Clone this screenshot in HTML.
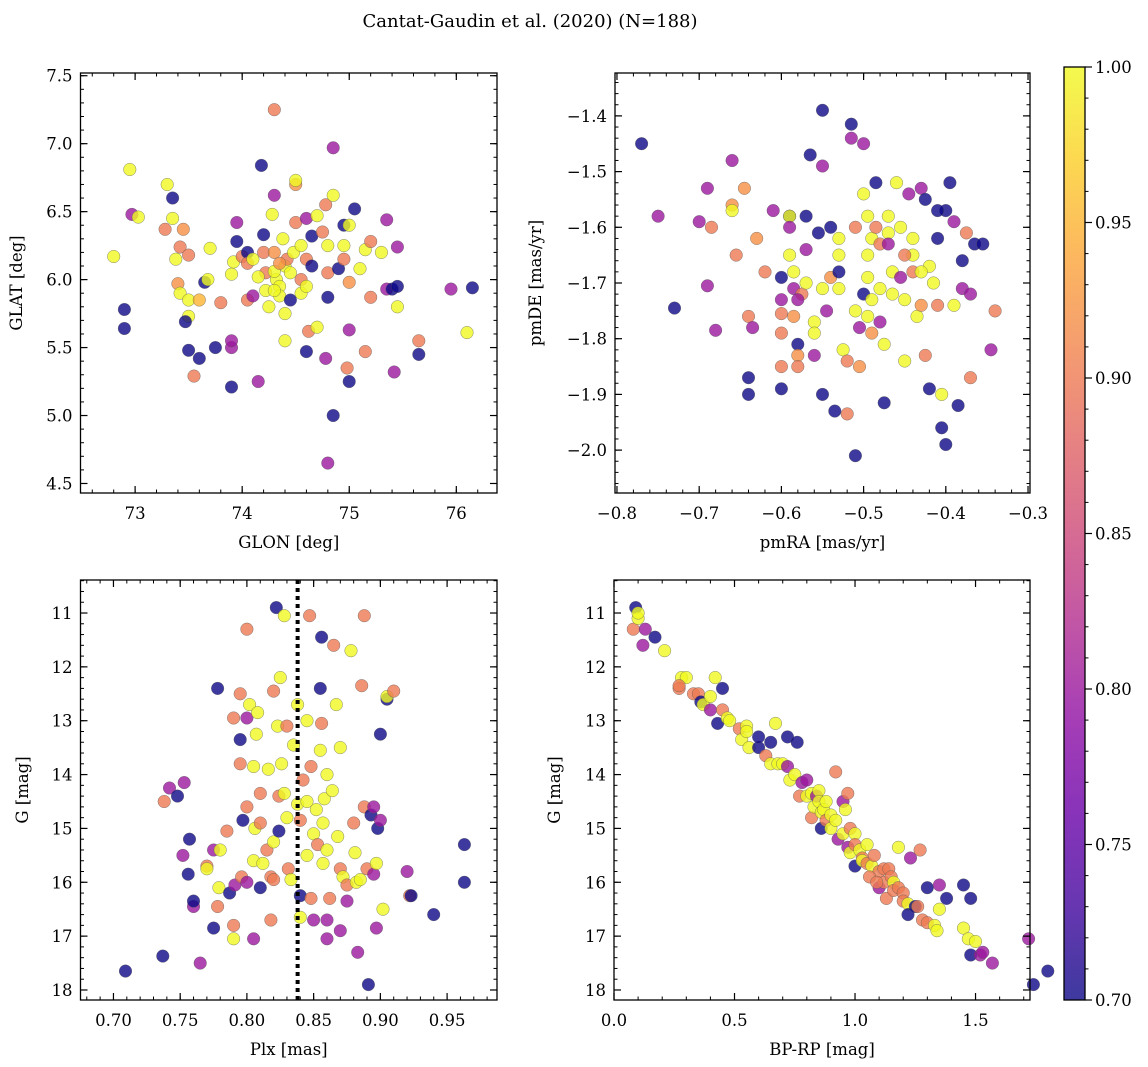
<!DOCTYPE html>
<html><head><meta charset="utf-8"><style>
html,body{margin:0;padding:0;background:#fff;}
svg{display:block;font-family:"DejaVu Serif","Liberation Serif",serif;}
</style></head><body>
<svg id="fig" width="1148" height="1067" viewBox="0 0 1148 1067" xmlns="http://www.w3.org/2000/svg">
<rect width="1148" height="1067" fill="#fff"/>
<text x="530" y="27" font-size="18" text-anchor="middle">Cantat-Gaudin et al. (2020) (N=188)</text>
</svg>
<script>
// ---- Panel 1 data: GLON / GLAT / probability
const p1x=[72.8,72.9,72.9,72.97,72.95,73.03,73.3,73.35,73.35,73.28,73.45,73.42,73.5,73.38,73.4,73.42,73.5,73.5,73.47,73.5,73.6,73.55,73.6,73.65,73.7,73.68,73.8,73.75,73.9,73.9,73.9,73.9,73.95,73.95,73.92,74.0,74.05,74.05,74.05,74.1,74.15,74.18,74.2,74.2,74.22,74.22,74.25,74.28,74.3,74.3,74.3,74.32,74.35,74.35,74.38,74.4,74.4,74.4,74.42,74.45,74.45,74.48,74.5,74.5,74.5,74.55,74.55,74.55,74.6,74.6,74.6,74.62,74.65,74.65,74.7,74.7,74.75,74.78,74.78,74.8,74.8,74.8,74.8,74.85,74.85,74.85,74.9,74.95,74.95,74.95,75.0,75.0,75.0,75.0,74.98,75.05,75.1,75.15,75.2,75.2,75.3,75.15,75.35,75.35,75.4,75.45,75.45,75.45,75.42,75.65,75.65,75.95,76.1,76.15,74.1,74.3,74.35,74.15,74.6,74.3];
const p1y=[6.17,5.78,5.64,6.48,6.81,6.46,6.70,6.60,6.45,6.37,6.37,6.24,6.18,6.15,5.97,5.90,5.85,5.73,5.69,5.48,5.42,5.29,5.85,5.98,6.23,6.00,5.83,5.50,5.50,5.55,5.21,6.04,6.42,6.28,6.13,6.17,6.2,6.12,5.85,5.88,5.25,6.84,6.33,6.2,6.05,5.92,5.8,6.48,7.25,6.62,6.2,6.0,5.95,5.88,6.3,6.1,5.75,5.55,6.15,6.05,5.85,6.2,6.7,6.73,6.42,6.25,6.0,5.9,6.45,6.15,5.47,5.62,6.1,6.32,6.47,5.65,6.35,6.55,5.42,6.25,6.05,5.87,4.65,6.62,6.97,5.0,6.08,6.4,6.25,6.15,6.4,5.98,5.63,5.25,5.35,6.52,6.08,6.22,6.28,5.87,6.2,5.47,6.44,5.93,5.93,6.24,5.8,5.95,5.32,5.55,5.45,5.93,5.61,5.94,6.15,6.06,6.12,6.02,5.95,5.92];
const p1c=[1,.7,.7,.8,1,1,1,.7,1,.9,.92,.9,.9,1,.92,1,1,1,.7,.7,.7,.9,.95,.7,1,1,.9,.7,.8,.8,.7,1,.8,.7,1,.9,.7,.9,.9,.8,.8,.7,.7,.9,.9,1,1,1,.9,.8,.92,1,1,1,1,1,1,1,.9,1,.7,1,.92,1,.9,1,.9,1,.8,.9,.7,.9,.7,.7,1,1,.9,.9,.8,1,.9,.7,.8,1,.8,.7,.7,.7,1,.9,1,.92,.8,.7,.9,.7,1,1,.9,.9,1,.9,.8,.8,.7,.8,1,.7,.8,.9,.7,.8,1,.7,1,1,.92,1,1,1];
// ---- Panel 2 data: pmRA / pmDE / probability
const p2x=[-0.77,-0.75,-0.73,-0.70,-0.69,-0.69,-0.685,-0.68,-0.66,-0.66,-0.66,-0.655,-0.645,-0.64,-0.635,-0.63,-0.62,-0.61,-0.6,-0.6,-0.6,-0.6,-0.64,-0.64,-0.6,-0.59,-0.59,-0.59,-0.59,-0.585,-0.585,-0.585,-0.58,-0.58,-0.58,-0.575,-0.57,-0.57,-0.57,-0.565,-0.56,-0.56,-0.56,-0.555,-0.55,-0.55,-0.55,-0.545,-0.55,-0.54,-0.54,-0.535,-0.53,-0.53,-0.53,-0.53,-0.525,-0.52,-0.52,-0.51,-0.515,-0.515,-0.51,-0.51,-0.505,-0.505,-0.5,-0.5,-0.5,-0.495,-0.495,-0.495,-0.495,-0.49,-0.49,-0.49,-0.485,-0.485,-0.48,-0.48,-0.48,-0.475,-0.475,-0.47,-0.47,-0.47,-0.465,-0.465,-0.46,-0.455,-0.455,-0.45,-0.45,-0.445,-0.44,-0.44,-0.44,-0.435,-0.43,-0.43,-0.425,-0.425,-0.42,-0.42,-0.415,-0.41,-0.41,-0.405,-0.405,-0.4,-0.4,-0.395,-0.39,-0.39,-0.38,-0.38,-0.375,-0.37,-0.37,-0.365,-0.355,-0.345,-0.34,-0.385,-0.41,-0.43,-0.45,-0.6,-0.58];
const p2y=[-1.45,-1.58,-1.745,-1.59,-1.53,-1.705,-1.6,-1.785,-1.48,-1.56,-1.57,-1.65,-1.53,-1.76,-1.78,-1.62,-1.68,-1.57,-1.73,-1.755,-1.79,-1.85,-1.9,-1.87,-1.89,-1.58,-1.58,-1.6,-1.65,-1.68,-1.71,-1.76,-1.81,-1.83,-1.85,-1.72,-1.64,-1.7,-1.58,-1.47,-1.77,-1.79,-1.83,-1.61,-1.39,-1.49,-1.71,-1.75,-1.9,-1.6,-1.69,-1.93,-1.62,-1.65,-1.68,-1.71,-1.82,-1.84,-1.935,-2.01,-1.415,-1.44,-1.6,-1.75,-1.78,-1.85,-1.45,-1.54,-1.72,-1.58,-1.65,-1.69,-1.76,-1.62,-1.73,-1.79,-1.52,-1.6,-1.63,-1.71,-1.77,-1.81,-1.915,-1.58,-1.61,-1.63,-1.68,-1.72,-1.52,-1.6,-1.69,-1.73,-1.84,-1.54,-1.62,-1.65,-1.68,-1.76,-1.74,-1.53,-1.55,-1.83,-1.89,-1.67,-1.7,-1.62,-1.74,-1.9,-1.96,-1.99,-1.57,-1.52,-1.59,-1.74,-1.66,-1.71,-1.61,-1.87,-1.72,-1.63,-1.63,-1.82,-1.75,-1.92,-1.57,-1.68,-1.65,-1.69,-1.73];
const p2c=[.7,.8,.7,.8,.8,.8,.9,.8,.8,.92,1,.9,.92,.9,.8,.92,.9,.8,.8,.9,.9,.9,.7,.7,.7,.7,1,.8,1,1,.8,.92,.7,.92,.9,.9,.8,1,.7,.7,1,1,.8,.7,.7,.8,1,.8,.7,.7,.92,.7,1,1,.7,1,1,.9,.9,.7,.7,.8,.9,1,.8,.92,.8,1,.7,1,1,1,1,1,1,.92,.7,.9,.9,1,.8,1,.7,1,1,.8,1,1,1,1,.8,1,1,.8,1,1,.9,1,.92,.8,.7,.9,.7,1,1,.7,.9,1,.7,.7,.7,.7,.8,1,.7,.8,.9,.9,.8,.7,.7,.8,.9,.7,.7,1,.9,.7,.8];
// ---- Panel 3 data: Plx / G / probability
const p3x=[0.709,0.737,0.738,0.742,0.748,0.752,0.753,0.757,0.756,0.76,0.76,0.765,0.77,0.77,0.775,0.775,0.778,0.779,0.778,0.78,0.785,0.787,0.79,0.79,0.79,0.791,0.795,0.795,0.795,0.797,0.796,0.8,0.8,0.8,0.8,0.802,0.805,0.805,0.805,0.806,0.807,0.808,0.81,0.81,0.812,0.815,0.816,0.818,0.818,0.82,0.82,0.82,0.822,0.823,0.824,0.824,0.825,0.826,0.828,0.828,0.83,0.831,0.833,0.835,0.838,0.838,0.84,0.84,0.84,0.842,0.845,0.845,0.845,0.847,0.848,0.848,0.85,0.85,0.852,0.853,0.855,0.855,0.856,0.856,0.857,0.857,0.858,0.86,0.86,0.86,0.86,0.862,0.864,0.865,0.867,0.868,0.87,0.87,0.87,0.872,0.875,0.875,0.878,0.88,0.881,0.882,0.883,0.885,0.886,0.888,0.888,0.89,0.891,0.893,0.895,0.895,0.897,0.897,0.898,0.9,0.9,0.902,0.905,0.905,0.91,0.92,0.922,0.923,0.94,0.963,0.963,0.83,0.81];
const p3y=[17.65,17.37,14.5,14.25,14.4,15.5,14.15,15.2,15.85,16.45,16.35,17.5,15.7,15.75,15.4,16.85,16.45,16.1,12.4,15.4,15.05,16.2,12.95,16.8,17.05,16.05,12.5,13.35,13.8,14.85,15.9,11.3,12.95,14.6,16.0,12.7,13.85,15.6,17.05,15.0,13.25,12.85,14.35,16.1,15.65,15.4,13.9,16.7,15.9,15.95,12.45,15.25,10.9,13.1,14.4,15.05,12.2,13.8,14.35,11.05,13.1,15.75,15.95,13.45,14.55,12.7,14.85,16.25,16.65,14.1,13.0,14.5,15.5,11.05,13.85,16.3,15.1,16.7,14.65,15.3,12.4,13.55,13.05,11.45,14.9,15.65,14.45,15.4,14.0,16.7,17.05,16.3,14.3,11.6,12.7,15.15,15.75,13.5,16.9,15.9,16.05,16.35,11.7,14.9,15.45,16.0,17.3,15.95,12.35,14.6,11.05,15.75,17.9,14.75,14.6,15.85,15.65,16.85,15.0,13.25,14.85,16.5,12.6,12.55,12.45,15.8,16.25,16.25,16.6,15.3,16.0,14.8,14.9];
const p3c=[.7,.7,.9,.8,.7,.8,.8,.7,.7,.8,.7,.8,.9,1,.8,.7,.9,1,.7,1,.9,.7,.9,.9,1,.8,.9,.7,.9,.7,.9,.9,.8,.9,.8,1,1,1,.8,1,1,1,.9,.7,1,.9,1,.9,.9,.9,.9,1,.7,1,.9,.7,1,1,1,1,.9,.9,1,1,1,1,.9,.7,1,.9,1,1,1,.9,.9,.9,1,.8,1,.9,.7,1,.9,.7,1,1,1,1,1,.8,.8,.9,1,.9,1,1,.9,1,.8,1,.9,.8,1,.9,1,1,.8,1,.9,.9,.9,.9,.7,.7,.8,.8,1,.8,.7,.7,.8,1,.7,1,.9,.8,.9,.7,.7,.7,.7,1,.9];
// ---- Panel 4 data: BP-RP / G / probability
const p4x=[0.08,0.09,0.1,0.1,0.12,0.13,0.17,0.21,0.28,0.3,0.27,0.27,0.33,0.35,0.36,0.37,0.4,0.4,0.42,0.43,0.45,0.45,0.47,0.48,0.52,0.53,0.55,0.55,0.56,0.6,0.63,0.65,0.67,0.68,0.7,0.72,0.72,0.73,0.75,0.76,0.77,0.78,0.8,0.8,0.82,0.82,0.83,0.84,0.85,0.85,0.86,0.86,0.87,0.88,0.88,0.9,0.9,0.92,0.92,0.93,0.95,0.95,0.96,0.97,0.97,0.98,0.98,1.0,1.0,1.0,1.02,1.03,1.03,1.05,1.05,1.07,1.08,1.1,1.1,1.12,1.12,1.13,1.14,1.15,1.16,1.16,1.18,1.18,1.2,1.2,1.22,1.22,1.23,1.25,1.26,1.27,1.28,1.3,1.3,1.33,1.34,1.35,1.35,1.38,1.45,1.48,1.45,1.47,1.48,1.5,1.52,1.53,1.57,1.72,1.74,1.8,0.6,0.65,1.06,1.09];
const p4y=[11.3,10.9,11.1,11.0,11.6,11.3,11.45,11.7,12.2,12.2,12.4,12.35,12.5,12.5,12.65,12.7,12.55,12.8,12.2,13.05,12.4,12.8,12.95,13.0,13.15,13.35,13.1,13.2,13.5,13.5,13.65,13.8,13.05,13.8,13.8,13.3,13.85,14.1,14.0,13.4,14.4,14.15,14.1,14.4,14.35,14.8,14.6,14.4,14.3,14.5,14.7,15.0,14.65,14.5,14.85,14.75,15.0,14.85,13.95,15.2,14.5,15.1,14.65,14.35,15.35,15.0,15.45,15.1,15.3,15.7,15.4,15.55,15.6,15.3,15.65,15.7,15.5,15.8,16.1,15.75,16.0,16.3,15.75,15.9,16.0,16.15,16.1,15.35,16.2,16.35,16.4,16.6,15.55,16.45,16.45,15.4,16.7,16.75,16.1,16.8,16.9,16.5,16.05,16.3,16.05,16.3,16.85,17.05,17.35,17.1,17.35,17.3,17.5,17.05,17.9,17.65,13.3,13.4,15.9,16.0];
const p4c=[.9,.7,1,1,.8,.8,.7,1,1,1,.9,.9,.9,.9,.7,1,1,.8,1,.7,.7,.9,1,1,.9,1,1,1,1,.7,.9,1,1,1,1,.7,.8,1,1,.7,.9,.8,.8,1,1,.9,1,.8,1,1,1,.7,1,1,.9,1,1,1,.9,.8,.8,1,1,.9,.8,.9,1,1,.9,.7,1,.9,1,1,.9,1,.9,.9,.8,.9,.9,.9,.9,.9,1,.9,.9,1,.9,.9,1,.7,.8,.7,.9,.9,.9,.9,.7,1,1,1,.8,.7,.7,.7,1,1,.7,1,.8,.8,.8,.8,.7,.7,.7,.7,.9,.9];
// ---- tick values
const p1xTicks=[73,74,75,76], p1yTicks=[4.5,5.0,5.5,6.0,6.5,7.0,7.5];
const p2xTicks=[-0.8,-0.7,-0.6,-0.5,-0.4,-0.3], p2yTicks=[-1.4,-1.5,-1.6,-1.7,-1.8,-1.9,-2.0];
const p3xTicks=[0.70,0.75,0.80,0.85,0.90,0.95], gTicks=[11,12,13,14,15,16,17,18];
const p4xTicks=[0.0,0.5,1.0,1.5];
const cbTicks=[0.70,0.75,0.80,0.85,0.90,0.95,1.00];
const plxLine=0.838;

const NS='http://www.w3.org/2000/svg';
const svg=document.getElementById('fig');
const FS=16.5;
function el(tag,attrs,parent){const e=document.createElementNS(NS,tag);for(const k in attrs)e.setAttribute(k,attrs[k]);(parent||svg).appendChild(e);return e;}
const stops=[[0,[13,8,135]],[0.125,[65,4,157]],[0.25,[106,0,168]],[0.375,[143,13,164]],[0.5,[177,42,144]],[0.625,[204,71,120]],[0.75,[225,100,98]],[0.875,[242,132,75]],[1.0,[252,166,54]],[1.125,[252,206,37]],[1.25,[240,249,33]]];
function plasma(t){t=Math.max(0,Math.min(1,t));t*=1.25;for(let i=1;i<stops.length;i++){if(t<=stops[i][0]){const a=stops[i-1],b=stops[i];const f=(t-a[0])/(b[0]-a[0]);return 'rgb('+a[1].map((v,j)=>Math.round(v+(b[1][j]-v)*f)).join(',')+')';}}return 'rgb(240,249,33)';}
function pcol(v){return plasma((v-0.7)/0.3);}
function fmt(v,d){return (v<0?'\u2212':'')+Math.abs(v).toFixed(d);}

function panel(o){
  const g=el('g',{});
  
  
  const X=v=>o.L+(v-o.x0)/(o.x1-o.x0)*(o.R-o.L);
  const Y=v=>o.T+(v-o.y0)/(o.y1-o.y0)*(o.B-o.T);
  for(let i=0;i<o.xs.length;i++){
    const c=el('circle',{cx:X(o.xs[i]).toFixed(1),cy:Y(o.ys[i]).toFixed(1),r:6.3,fill:pcol(o.cs[i]),'fill-opacity':0.8,stroke:'#555','stroke-width':0.5,'stroke-opacity':0.7},g);
    
    
  }
  if(o.vline!==undefined){
    const l=el('line',{x1:X(o.vline),x2:X(o.vline),y1:o.T,y2:o.B,stroke:'#000','stroke-width':4,'stroke-dasharray':'4,4'},g);
    
    
  }
  const fr=el('rect',{x:o.L,y:o.T,width:o.R-o.L,height:o.B-o.T,fill:'none',stroke:'#000','stroke-width':1.3},g);
  
  
  const mx=o.xminor, my=o.yminor;
  const lo=Math.min(o.x0,o.x1), hi=Math.max(o.x0,o.x1);
  for(let v=Math.ceil(lo/mx-1e-6)*mx; v<=hi+1e-9; v+=mx){const px=X(v);el('line',{x1:px,x2:px,y1:o.B,y2:o.B-3.5,stroke:'#000','stroke-width':1},g);el('line',{x1:px,x2:px,y1:o.T,y2:o.T+3.5,stroke:'#000','stroke-width':1},g);}
  const ylo=Math.min(o.y0,o.y1), yhi=Math.max(o.y0,o.y1);
  for(let v=Math.ceil(ylo/my-1e-6)*my; v<=yhi+1e-9; v+=my){const py=Y(v);el('line',{x1:o.L,x2:o.L+3.5,y1:py,y2:py,stroke:'#000','stroke-width':1},g);el('line',{x1:o.R,x2:o.R-3.5,y1:py,y2:py,stroke:'#000','stroke-width':1},g);}
  o.xt.forEach(v=>{const px=X(v);el('line',{x1:px,x2:px,y1:o.B,y2:o.B-7,stroke:'#000','stroke-width':1.2},g);el('line',{x1:px,x2:px,y1:o.T,y2:o.T+7,stroke:'#000','stroke-width':1.2},g);
    const t=el('text',{x:px,y:o.B+26,'font-size':FS,'text-anchor':'middle'},g);t.textContent=fmt(v,o.xd);
    });
  o.yt.forEach(v=>{const py=Y(v);el('line',{x1:o.L,x2:o.L+7,y1:py,y2:py,stroke:'#000','stroke-width':1.2},g);el('line',{x1:o.R,x2:o.R-7,y1:py,y2:py,stroke:'#000','stroke-width':1.2},g);
    const t=el('text',{x:o.L-8,y:py+6,'font-size':FS,'text-anchor':'end'},g);t.textContent=fmt(v,o.yd);
    });
  const xl=el('text',{x:(o.L+o.R)/2,y:o.B+55,'font-size':FS,'text-anchor':'middle'},g);xl.textContent=o.xlab;
  
  const yx=o.ylx, yy=(o.T+o.B)/2;
  const yl=el('text',{x:yx,y:yy,'font-size':FS,'text-anchor':'middle',transform:'rotate(-90 '+yx+' '+yy+')'},g);yl.textContent=o.ylab;
  
}
panel({name:'glon-glat-panel',L:80.5,R:497,T:73,B:493,x0:72.49,x1:76.38,y0:7.52,y1:4.43,xs:p1x,ys:p1y,cs:p1c,xt:p1xTicks,yt:p1yTicks,xminor:0.2,yminor:0.1,xd:0,yd:1,xlab:'GLON [deg]',ylab:'GLAT [deg]',ylx:22});
panel({name:'pm-panel',L:615,R:1030,T:73,B:493,x0:-0.8024,x1:-0.2976,y0:-1.323,y1:-2.077,xs:p2x,ys:p2y,cs:p2c,xt:p2xTicks,yt:p2yTicks,xminor:0.02,yminor:0.02,xd:1,yd:1,xlab:'pmRA [mas/yr]',ylab:'pmDE [mas/yr]',ylx:541});
panel({name:'plx-g-panel',L:80.5,R:497,T:580,B:1000,x0:0.6753,x1:0.9874,y0:10.387,y1:18.186,xs:p3x,ys:p3y,cs:p3c,xt:p3xTicks,yt:gTicks,xminor:0.01,yminor:0.2,xd:2,yd:0,xlab:'Plx [mas]',ylab:'G [mag]',ylx:28,vline:plxLine});
panel({name:'cmd-panel',L:614,R:1030,T:580,B:1000,x0:0,x1:1.726,y0:10.387,y1:18.186,xs:p4x,ys:p4y,cs:p4c,xt:p4xTicks,yt:gTicks,xminor:0.1,yminor:0.2,xd:1,yd:0,xlab:'BP-RP [mag]',ylab:'G [mag]',ylx:560});

const cb=el('g',{});


const defs=el('defs',{},cb);
const grad=el('linearGradient',{id:'cbg',x1:0,y1:1,x2:0,y2:0},defs);
for(let i=0;i<=20;i++){const v=0.7+0.3*i/20;el('stop',{offset:(i/20),'stop-color':pcol(v),'stop-opacity':0.8},grad);}
const CT=67,CB=1000,CL=1064,CR=1085;
el('rect',{x:CL,y:CT,width:CR-CL,height:CB-CT,fill:'url(#cbg)',stroke:'#000','stroke-width':1.3},cb);
const CY=v=>CB-(v-0.7)/0.3*(CB-CT);
for(let v=0.7;v<=1.0001;v+=0.01){const py=CY(v);el('line',{x1:CR,x2:CR+3.5,y1:py,y2:py,stroke:'#000','stroke-width':1},cb);}
cbTicks.forEach(v=>{const py=CY(v);el('line',{x1:CR,x2:CR+7,y1:py,y2:py,stroke:'#000','stroke-width':1.2},cb);
  const t=el('text',{x:CR+10,y:py+6,'font-size':FS},cb);t.textContent=v.toFixed(2);
  });
</script>
</body></html>
